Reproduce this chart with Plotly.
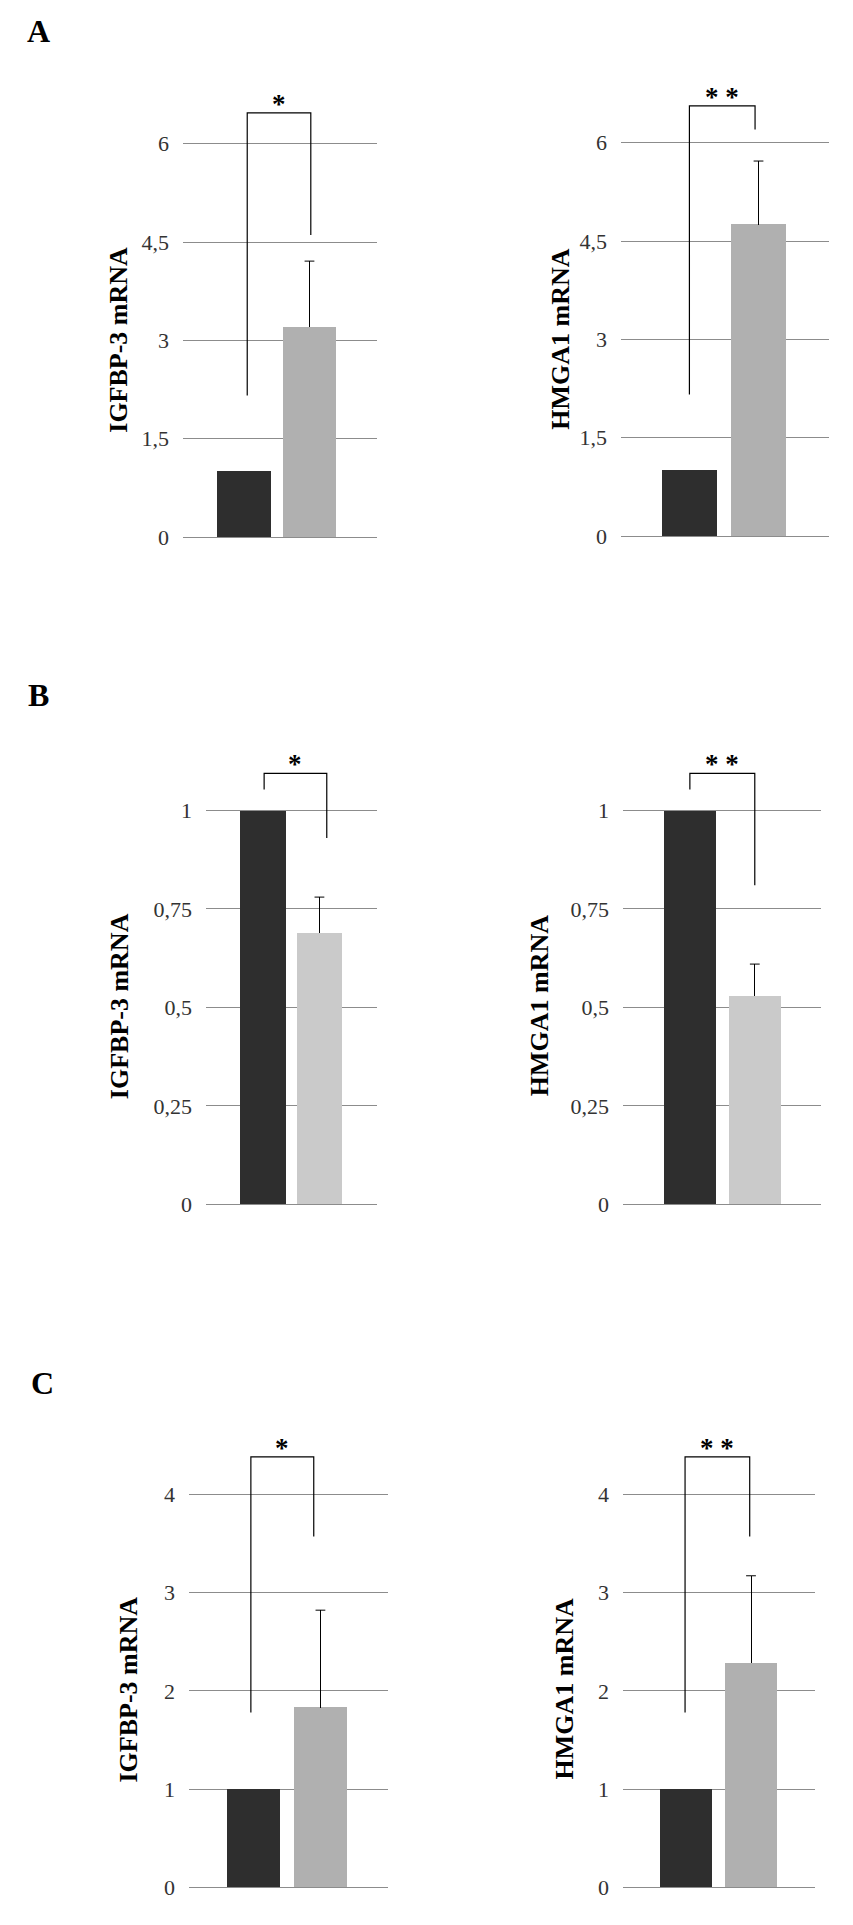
import plotly.graph_objects as go

W, H = 853, 1925
BODY = 8                      # default page margin of the html body
FW, FH = W - BODY, H - BODY   # figure size so that it fills the window

# ---------------- data ----------------
panel_letters = ["A", "B", "C"]
genes = ["IGFBP-3 mRNA", "HMGA1 mRNA"]
groups = ["control", "treated"]

# mean values (control, treated) per panel / gene
values_A_igfbp3 = [1.0, 3.2]
values_A_hmga1 = [1.0, 4.75]
values_B_igfbp3 = [1.0, 0.69]
values_B_hmga1 = [1.0, 0.53]
values_C_igfbp3 = [1.0, 1.83]
values_C_hmga1 = [1.0, 2.28]

# upper error (treated only)
err_A_igfbp3 = 1.01
err_A_hmga1 = 0.97
err_B_igfbp3 = 0.09
err_B_hmga1 = 0.08
err_C_igfbp3 = 0.99
err_C_hmga1 = 0.89

# significance labels
sig_A = ["*", "* *"]
sig_B = ["*", "* *"]
sig_C = ["*", "* *"]

# y tick values and labels
ticks_A = [0, 1.5, 3, 4.5, 6]
ticklabels_A = ["0", "1,5", "3", "4,5", "6"]
ticks_B = [0, 0.25, 0.5, 0.75, 1]
ticklabels_B = ["0", "0,25", "0,5", "0,75", "1"]
ticks_C = [0, 1, 2, 3, 4]
ticklabels_C = ["0", "1", "2", "3", "4"]

# bracket (left leg bottom, top, right leg bottom) in data units
bracket_A_igfbp3 = [2.16, 6.47, 4.61]
bracket_A_hmga1 = [2.16, 6.56, 6.2]
bracket_B_igfbp3 = [1.053, 1.094, 0.93]
bracket_B_hmga1 = [1.053, 1.094, 0.81]
bracket_C_igfbp3 = [1.78, 4.38, 3.57]
bracket_C_hmga1 = [1.78, 4.38, 3.57]

# ---------------- styling / geometry (pixels in the window) ----------------
DARK = "#2e2e2e"
GRAY_AC = "#b0b0b0"
GRAY_B = "#cacaca"
GRID = "#8c8c8c"
SERIF = "Liberation Serif, Times New Roman, serif"


def px(x):
    return (x - BODY) / FW


def py(y):
    return 1 - (y - BODY) / FH


panels = [
    dict(v=values_A_igfbp3, e=err_A_igfbp3, t=ticks_A, tl=ticklabels_A, br=bracket_A_igfbp3, sig=sig_A[0], c=GRAY_AC,
         xpx=(183, 377), y0=540.7, s=66.0, ymax=7.0, xr=(-0.93, 2.03), bw=0.82, bx=(0.05, 1.02), title=genes[0], tc=(119, 342)),
    dict(v=values_A_hmga1, e=err_A_hmga1, t=ticks_A, tl=ticklabels_A, br=bracket_A_hmga1, sig=sig_A[1], c=GRAY_AC,
         xpx=(621, 829), y0=539.6, s=66.0, ymax=7.0, xr=(-0.99, 2.02), bw=0.8, bx=(0.0, 0.95), title=genes[1], tc=(561, 342)),
    dict(v=values_B_igfbp3, e=err_B_igfbp3, t=ticks_B, tl=ticklabels_B, br=bracket_B_igfbp3, sig=sig_B[0], c=GRAY_B,
         xpx=(206, 377), y0=1212.6, s=396.7, ymax=1.25, xr=(-1.01, 2.02), bw=0.81, bx=(0.02, 1.13), title=genes[0], tc=(119, 1013)),
    dict(v=values_B_hmga1, e=err_B_hmga1, t=ticks_B, tl=ticklabels_B, br=bracket_B_hmga1, sig=sig_B[1], c=GRAY_B,
         xpx=(623, 821), y0=1212.6, s=396.7, ymax=1.25, xr=(-1.03, 2.02), bw=0.8, bx=(0.0, 1.0), title=genes[1], tc=(539, 1013)),
    dict(v=values_C_igfbp3, e=err_C_igfbp3, t=ticks_C, tl=ticklabels_C, br=bracket_C_igfbp3, sig=sig_C[0], c=GRAY_AC,
         xpx=(189, 388), y0=1900.3, s=99.0, ymax=4.8, xr=(-0.965, 2.01), bw=0.8, bx=(-0.04, 0.9), title=genes[0], tc=(129, 1701)),
    dict(v=values_C_hmga1, e=err_C_hmga1, t=ticks_C, tl=ticklabels_C, br=bracket_C_hmga1, sig=sig_C[1], c=GRAY_AC,
         xpx=(623, 815), y0=1900.3, s=99.0, ymax=4.8, xr=(-0.98, 1.99), bw=0.8, bx=(-0.02, 0.98), title=genes[1], tc=(565, 1701)),
]

letter_pos = [(38, 31), (38, 700), (42, 1392)]

fig = go.Figure()
annotations = []
layout_axes = {}

for i, p in enumerate(panels, start=1):
    xa = "x" if i == 1 else f"x{i}"
    ya = "y" if i == 1 else f"y{i}"
    xkey = "xaxis" if i == 1 else f"xaxis{i}"
    ykey = "yaxis" if i == 1 else f"yaxis{i}"

    top_px = p["y0"] - p["s"] * p["ymax"]
    xdom = [px(p["xpx"][0]), px(p["xpx"][1])]
    ydom = [py(p["y0"]), py(top_px)]

    # control bar
    fig.add_trace(go.Bar(x=[0], y=[p["v"][0]], width=p["bw"], marker=dict(color=DARK, line=dict(width=0)),
                         xaxis=xa, yaxis=ya, showlegend=False, name=groups[0]))
    # treated bar with upper error (no cap at the bar top)
    fig.add_trace(go.Bar(x=[1], y=[p["v"][1]], width=p["bw"], marker=dict(color=p["c"], line=dict(width=0)),
                         error_y=dict(type="data", symmetric=False, array=[p["e"]], arrayminus=[0],
                                      color="black", thickness=1, width=0),
                         xaxis=xa, yaxis=ya, showlegend=False, name=groups[1]))
    # cap on top of the error bar
    fig.add_trace(go.Scatter(x=[1], y=[p["v"][1] + p["e"]], mode="markers",
                             marker=dict(symbol="line-ew", size=7, line=dict(color="black", width=1)),
                             xaxis=xa, yaxis=ya, showlegend=False, hoverinfo="skip"))
    # significance bracket
    lb, tp, rb = p["br"]
    bx0, bx1 = p["bx"]
    fig.add_trace(go.Scatter(x=[bx0, bx0, bx1, bx1], y=[lb, tp, tp, rb], mode="lines",
                             line=dict(color="black", width=1.2), xaxis=xa, yaxis=ya,
                             showlegend=False, hoverinfo="skip"))
    annotations.append(dict(x=(bx0 + bx1) / 2, y=tp, xref=xa, yref=ya, text=f"<b>{p['sig']}</b>",
                            showarrow=False, yanchor="bottom", yshift=-8,
                            font=dict(family=SERIF, size=27, color="black")))

    layout_axes[xkey] = dict(domain=xdom, range=list(p["xr"]), showgrid=False, zeroline=False,
                             showticklabels=False, ticks="", showline=True, linecolor=GRID, linewidth=1,
                             anchor=ya, fixedrange=True)
    layout_axes[ykey] = dict(domain=ydom, range=[0, p["ymax"]], tickmode="array", tickvals=p["t"],
                             ticktext=p["tl"], showgrid=True, gridcolor=GRID, gridwidth=1, zeroline=False,
                             showline=False, ticks="", ticklabelstandoff=13,
                             tickfont=dict(family=SERIF, size=22, color="#333333"), anchor=xa, fixedrange=True)

    annotations.append(dict(x=px(p["tc"][0]), y=py(p["tc"][1]), xref="paper", yref="paper",
                            text=f"<b>{p['title']}</b>", textangle=-90, showarrow=False,
                            xanchor="center", yanchor="middle",
                            font=dict(family=SERIF, size=26, color="black")))

for letter, (lx, ly) in zip(panel_letters, letter_pos):
    annotations.append(dict(x=px(lx), y=py(ly), xref="paper", yref="paper", text=f"<b>{letter}</b>",
                            showarrow=False, xanchor="center", yanchor="middle",
                            font=dict(family=SERIF, size=32, color="black")))

fig.update_layout(width=FW, height=FH, margin=dict(l=0, r=0, t=0, b=0),
                  paper_bgcolor="white", plot_bgcolor="white", bargap=0,
                  annotations=annotations, **layout_axes)

fig.write_html("out.html", config={"displayModeBar": False})
